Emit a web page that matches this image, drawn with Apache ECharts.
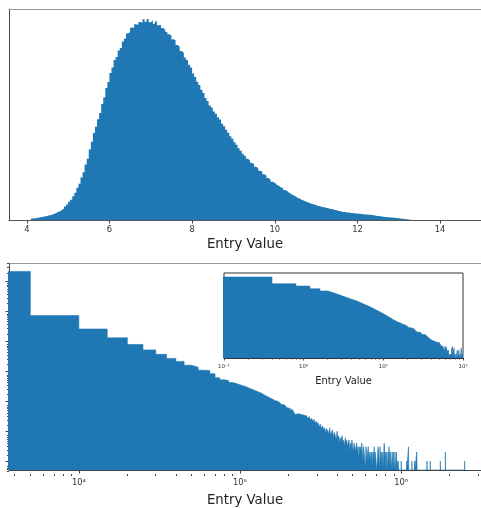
<!DOCTYPE html>
<html>
<head>
<meta charset="utf-8">
<script src="https://cdn.jsdelivr.net/npm/echarts@6/dist/echarts.min.js"></script>
<style>
  html, body { margin: 0; padding: 0; background: #fff; }
  #chart { width: 481px; height: 508px; }
</style>
</head>
<body>
<div id="chart"></div>
<script>
const FONT = 'DejaVu Sans';
const BLUE = '#1f77b4';

// ---- Upper panel: linear histogram of entry values (bin width 0.05 from 4.10) ----
const topBinStart = 4.10;
const topBinWidth = 0.05;
const topCounts = [
  150, 175, 210, 240, 295, 315, 365, 400, 470, 510,
  610, 680, 790, 860, 1010, 1140, 1340, 1540, 1820, 2030,
  2380, 2730, 3230, 3630, 4240, 4770, 5540, 6120, 7040, 7820,
  8700, 9310, 10060, 10700, 11580, 12250, 13180, 13790, 14680, 15240,
  15980, 16290, 16930, 17180, 17830, 18120, 18640, 18780, 19210, 19230,
  19560, 19480, 19790, 19700, 20050, 19820, 20080, 19760, 19950, 19600,
  19830, 19470, 19480, 19180, 19020, 18780, 18560, 18430, 18050, 17950,
  17490, 17300, 16890, 16720, 16250, 15990, 15520, 15240, 14630, 14280,
  13810, 13500, 13010, 12690, 12200, 11900, 11450, 11230, 10850, 10620,
  10260, 10030, 9620, 9380, 9010, 8720, 8360, 8130, 7770, 7530,
  7170, 6920, 6620, 6410, 6130, 5970, 5720, 5560, 5320, 5170,
  4930, 4810, 4580, 4420, 4190, 4030, 3830, 3720, 3530, 3420,
  3260, 3190, 2990, 2890, 2720, 2610, 2470, 2370, 2230, 2160,
  2030, 1960, 1860, 1770, 1680, 1630, 1540, 1500, 1410, 1370,
  1300, 1270, 1200, 1180, 1110, 1090, 1010, 980, 900, 870,
  800, 790, 750, 740, 700, 690, 660, 640, 620, 600,
  580, 560, 540, 520, 500, 470, 430, 410, 370, 340,
  310, 300, 270, 260, 240, 220, 200, 170, 140, 120,
  90, 75, 50, 30
];
const topTicks = [4, 6, 8, 10, 12, 14];

// ---- Lower panel: log-log histogram, bins 5000 wide starting at 0 ----
const mainBinWidth = 5000;
const mainCounts = [
  2200000, 73000, 26000, 13200, 7900, 5200, 3700, 2700, 2150, 1600,
  1380, 1090, 1060, 830, 610, 520, 490, 420, 390, 355,
  325, 300, 268, 245, 226, 205, 190, 168, 150, 138,
  125, 116, 104, 101, 93, 88, 79, 74, 66, 61,
  57, 47, 55, 44, 36, 38, 33, 36, 31, 34,
  30, 32, 27, 30, 25, 26, 22, 24, 19, 21,
  16, 19, 14, 17, 12, 15, 11, 13, 9, 12,
  10, 8, 13, 7, 9, 11, 6, 9, 7, 5,
  10, 6, 7, 4, 6, 5, 7, 4, 5, 3,
  6, 4, 5, 3, 4, 5, 2, 4, 3, 5,
  3, 2, 4, 3, 2, 3, 4, 2, 3, 1,
  3, 2, 3, 2, 4, 2, 1, 3, 2, 2,
  0, 3, 2, 1, 2, 3, 1, 2, 2, 1,
  2, 1, 2, 0, 2, 1, 3, 1, 2, 2,
  2, 0, 1, 2, 3, 2, 1, 0, 3, 1,
  2, 2, 1, 2, 0, 1, 2, 4, 2, 1,
  2, 0, 1, 2, 2, 0, 2, 1, 3, 2,
  0, 1, 2, 1, 0, 1, 2, 1, 0, 2,
  1, 1, 0, 2, 1, 0, 1, 2, 0, 1,
  0, 0, 1
];
// isolated non-empty bins further out (bin index, count)
const mainTailBins = [200, 216, 222, 233, 242, 250, 289, 303, 350, 376, 495];
const mainTailCounts = [1, 1, 3, 1, 1, 2, 1, 1, 1, 2, 1];
const mainTicks = [1e4, 1e5, 1e6];
const mainTickLabels = ['10\u2074', '10\u2075', '10\u2076'];
const mainCountTicks = [1, 10, 100, 1e3, 1e4, 1e5, 1e6];

// ---- Inset: log-log histogram, bins 0.4 wide starting at 0 ----
const insetBinWidth = 0.4;
const insetCounts = [
  970000, 290000, 192000, 118000, 80000, 56000, 40000, 29500, 23000, 18400,
  15100, 12400, 9900, 8050, 6650, 5600, 4700, 3900, 3300, 2800,
  2400, 2090, 1820, 1580, 1380, 1180, 1030, 910, 800, 705,
  630, 560, 500, 445, 400, 362, 348, 306, 301, 268,
  262, 236, 233, 209, 205, 181, 183, 163, 166, 142,
  148, 129, 136, 114, 121, 104, 108, 89, 96, 84,
  88, 72, 79, 74, 61, 68, 57, 63, 51, 58,
  47, 53, 44, 49, 38, 45, 42, 34, 40, 31,
  36, 33, 27, 32, 25, 30, 24, 28, 21, 26,
  20, 24, 19, 22, 17, 21, 16, 19, 14, 18,
  15, 12, 16, 13, 11, 15, 10, 13, 12, 9,
  12, 10, 8, 11, 9, 10, 7, 10, 8, 9,
  7, 9, 8, 6, 9, 7, 8, 6, 8, 6,
  7, 5, 7, 6, 5, 6, 4, 6, 5, 4,
  5, 3, 5, 4, 3, 5, 3, 4, 2, 4,
  3, 2, 4, 3, 2, 3, 2, 1, 2, 2,
  1, 2, 1, 1, 2, 1, 1, 0, 1, 1,
  0, 1, 0, 0, 1, 0, 0, 0, 1, 0,
  3, 4, 3, 0, 0, 4, 3, 0, 0, 0,
  2, 0, 0, 3, 0, 0, 0, 1, 0, 0,
  0, 0, 0, 0, 0, 1, 0, 0, 0, 0,
  0, 0, 2, 2, 0, 0, 0, 0, 0, 0,
  0, 0, 2, 2, 0, 0, 0, 0, 0, 0,
  1, 0, 0, 0, 0, 0, 0, 0, 3, 3,
  0, 0, 0, 0, 0, 1, 0, 0, 0, 0
];
const insetTicks = [0.1, 1, 10, 100];
const insetTickLabels = ['10\u207B\u00B9', '10\u2070', '10\u00B9', '10\u00B2'];

// axis ranges
const TOP_X = [3.57, 14.99];
const MAIN_X = [3687, 3.129e6];
const MAIN_Y = [0.5, 4.2e6];
const INSET_X = [0.1, 100];
const INSET_Y = [0.5, 2e6];

// Step outline of a histogram: one point per left bin edge, closed by the last right edge.
// Empty bins sit on the axis floor so the log scale never sees zero.
function histPoints(start, width, counts, floor, lowEdge) {
  const pts = counts.map((c, i) => [Math.max(start + i * width, lowEdge), c > 0 ? c : floor]);
  pts.push([start + counts.length * width, floor]);
  return pts;
}

const mainPoints = histPoints(0, mainBinWidth, mainCounts, MAIN_Y[0], 1);
mainTailBins.forEach((b, i) => {
  mainPoints.push([b * mainBinWidth, mainTailCounts[i]]);
  mainPoints.push([(b + 1) * mainBinWidth, MAIN_Y[0]]);
});

// minor ticks at 2..9 of each decade inside a log range
function logMinor(lo, hi) {
  const out = [];
  for (let e = Math.floor(Math.log10(lo)); e <= Math.ceil(Math.log10(hi)); e++) {
    for (let m = 2; m <= 9; m++) {
      const v = +(m * Math.pow(10, e)).toPrecision(6);
      if (v > lo && v < hi) out.push(v);
    }
  }
  return out;
}

function labelFrom(ticks, labels) {
  return v => {
    const e = Math.round(Math.log10(v));
    const idx = ticks.findIndex(t => Math.round(Math.log10(t)) === e);
    return idx >= 0 ? labels[idx] : '';
  };
}

const tickLine = { color: '#444', width: 1 };
const hidden = { show: false };

function histSeries(x, y, data, edge) {
  return {
    type: 'line', xAxisIndex: x, yAxisIndex: y, data: data,
    step: 'end', symbol: 'none', silent: true, animation: false,
    lineStyle: { width: edge, color: BLUE },
    areaStyle: { color: BLUE, opacity: 1, origin: 'start' }
  };
}

// a bare axis drawn along the top edge of a panel
function topSpine(grid, type, range) {
  return {
    type: type, gridIndex: grid, position: 'top', min: range[0], max: range[1],
    axisLine: { lineStyle: { color: '#999', width: 1 } },
    axisTick: hidden, axisLabel: hidden, splitLine: hidden
  };
}

const chart = echarts.init(document.getElementById('chart'), null, { renderer: 'canvas' });
chart.setOption({
  animation: false,
  backgroundColor: '#fff',
  textStyle: { fontFamily: FONT },
  grid: [
    { left: 9, top: 9, width: 473, height: 211 },
    { left: 9, top: 263, width: 473, height: 211 },
    { left: 9, top: 263, width: 473, height: 211 },
    { left: 224, top: 273, width: 239, height: 85, show: true, borderColor: '#333', borderWidth: 1, backgroundColor: '#fff' },
    { left: 224, top: 273, width: 239, height: 85 }
  ],
  xAxis: [
    {
      type: 'value', gridIndex: 0, min: TOP_X[0], max: TOP_X[1],
      axisLine: { lineStyle: { color: '#555', width: 1 } },
      axisTick: { customValues: topTicks, length: 3.5, lineStyle: tickLine },
      axisLabel: { customValues: topTicks, fontSize: 8.3, color: '#333', margin: 6, fontFamily: FONT },
      splitLine: hidden,
      name: 'Entry Value', nameLocation: 'middle', nameGap: 18,
      nameTextStyle: { fontSize: 13.3, color: '#222', fontFamily: FONT }
    },
    {
      type: 'log', logBase: 10, gridIndex: 1, min: MAIN_X[0], max: MAIN_X[1],
      axisLine: { lineStyle: { color: '#444', width: 1 } },
      axisTick: { customValues: mainTicks, length: 3.5, lineStyle: tickLine },
      axisLabel: { customValues: mainTicks, formatter: labelFrom(mainTicks, mainTickLabels),
        fontSize: 8.3, color: '#333', margin: 9, fontFamily: FONT },
      splitLine: hidden, minorTick: hidden,
      name: 'Entry Value', nameLocation: 'middle', nameGap: 24,
      nameTextStyle: { fontSize: 13.3, color: '#222', fontFamily: FONT }
    },
    {
      type: 'log', logBase: 10, gridIndex: 2, min: MAIN_X[0], max: MAIN_X[1],
      axisLine: hidden, axisLabel: hidden, splitLine: hidden,
      axisTick: { customValues: logMinor(MAIN_X[0], MAIN_X[1]), length: 2, lineStyle: tickLine }
    },
    {
      type: 'log', logBase: 10, gridIndex: 3, min: INSET_X[0], max: INSET_X[1],
      axisLine: { lineStyle: { color: '#333', width: 1 } },
      axisTick: { customValues: insetTicks, length: 2.5, lineStyle: tickLine },
      axisLabel: { customValues: insetTicks, formatter: labelFrom(insetTicks, insetTickLabels),
        fontSize: 5.5, color: '#333', margin: 6, fontFamily: FONT },
      splitLine: hidden,
      name: 'Entry Value', nameLocation: 'middle', nameGap: 18,
      nameTextStyle: { fontSize: 9.9, color: '#222', fontFamily: FONT }
    },
    {
      type: 'log', logBase: 10, gridIndex: 4, min: INSET_X[0], max: INSET_X[1],
      axisLine: hidden, axisLabel: hidden, splitLine: hidden,
      axisTick: { customValues: logMinor(INSET_X[0], INSET_X[1]), length: 1.5, lineStyle: tickLine }
    },
    topSpine(0, 'value', TOP_X),
    topSpine(1, 'log', MAIN_X)
  ],
  yAxis: [
    {
      type: 'value', gridIndex: 0, min: 0, max: e => e.max * 1.05,
      axisLine: { show: true, lineStyle: { color: '#444', width: 1 } },
      axisTick: hidden, axisLabel: hidden, splitLine: hidden
    },
    {
      type: 'log', logBase: 10, gridIndex: 1, min: MAIN_Y[0], max: MAIN_Y[1],
      axisLine: { show: true, lineStyle: { color: '#444', width: 1 } },
      axisTick: { customValues: mainCountTicks, length: 3.5, lineStyle: tickLine },
      axisLabel: hidden, splitLine: hidden
    },
    {
      type: 'log', logBase: 10, gridIndex: 2, min: MAIN_Y[0], max: MAIN_Y[1],
      axisLine: hidden, axisLabel: hidden, splitLine: hidden,
      axisTick: { customValues: logMinor(MAIN_Y[0], MAIN_Y[1]), length: 2, lineStyle: tickLine }
    },
    {
      type: 'log', logBase: 10, gridIndex: 3, min: INSET_Y[0], max: INSET_Y[1],
      axisLine: hidden, axisTick: hidden, axisLabel: hidden, splitLine: hidden
    },
    {
      type: 'log', logBase: 10, gridIndex: 4, min: INSET_Y[0], max: INSET_Y[1],
      axisLine: hidden, axisTick: hidden, axisLabel: hidden, splitLine: hidden
    }
  ],
  series: [
    histSeries(0, 0, histPoints(topBinStart, topBinWidth, topCounts, 0, topBinStart), 0),
    histSeries(1, 1, mainPoints, 0.6),
    histSeries(3, 3, histPoints(0, insetBinWidth, insetCounts, INSET_Y[0], 0.01), 0.6)
  ]
});
</script>
</body>
</html>
